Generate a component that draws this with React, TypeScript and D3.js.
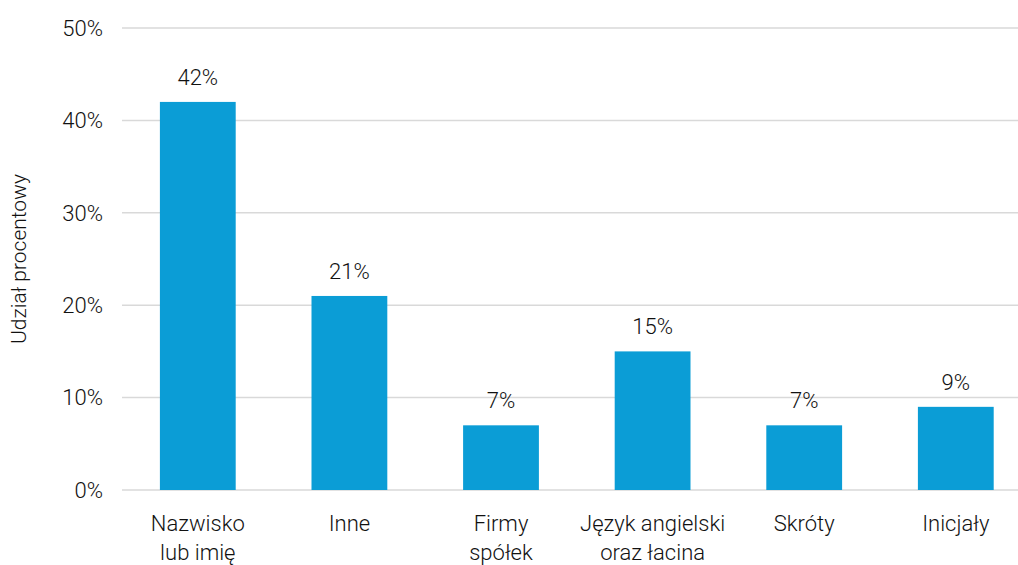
import React from "react";
import * as d3 from "d3";

const categories = [
  ["Nazwisko", "lub imię"],
  ["Inne"],
  ["Firmy", "spółek"],
  ["Język angielski", "oraz łacina"],
  ["Skróty"],
  ["Inicjały"],
];
const shares = [42, 21, 7, 15, 7, 9];
const yTicks = [0, 10, 20, 30, 40, 50];

const W = 1018;
const H = 565;
const left = 122;
const bottom = 490;
const top = 28;
const font = "Roboto, 'DejaVu Sans', sans-serif";

const App = () => {
  const keys = categories.map((c) => c.join(" "));
  const x = d3
    .scaleBand()
    .domain(keys)
    .range([left, left + 151.6 * 6])
    .paddingInner(0.5)
    .paddingOuter(0.25);
  const y = d3.scaleLinear().domain([0, 50]).range([bottom, top]);

  return (
    <svg
      width={W}
      height={H}
      style={{ position: "absolute", left: 0, top: 0 }}
      fontFamily={font}
      fontWeight={300}
    >
      {/* grid */}
      {yTicks.map((t) => (
        <g key={t}>
          <line
            x1={left}
            x2={left + 151.6 * 6}
            y1={y(t)}
            y2={y(t)}
            stroke="#d9d9d9"
            strokeWidth={1.5}
          />
          <text
            x={103}
            y={y(t)}
            dy="0.35em"
            textAnchor="end"
            fontSize={22}
            fill="#111"
          >
            {t}%
          </text>
        </g>
      ))}

      {/* bars */}
      {shares.map((v, i) => {
        const k = keys[i];
        const bx = x(k) as number;
        return (
          <g key={k}>
            <rect
              x={bx}
              y={y(v)}
              width={x.bandwidth()}
              height={bottom - y(v)}
              fill="#0b9dd6"
            />
            <text
              x={bx + x.bandwidth() / 2}
              y={y(v) - 17}
              textAnchor="middle"
              fontSize={22}
              fill="#111"
            >
              {v}%
            </text>
          </g>
        );
      })}

      {/* category labels */}
      {categories.map((lines, i) => {
        const cx = (x(keys[i]) as number) + x.bandwidth() / 2;
        return (
          <text key={i} textAnchor="middle" fontSize={22} fill="#111">
            {lines.map((l, j) => (
              <tspan key={j} x={cx} y={531 + j * 29}>
                {l}
              </tspan>
            ))}
          </text>
        );
      })}

      <text
        transform={`translate(26, ${(top + bottom) / 2}) rotate(-90)`}
        textAnchor="middle"
        fontSize={21}
        fill="#111"
      >
        Udział procentowy
      </text>
    </svg>
  );
};

export default App;
